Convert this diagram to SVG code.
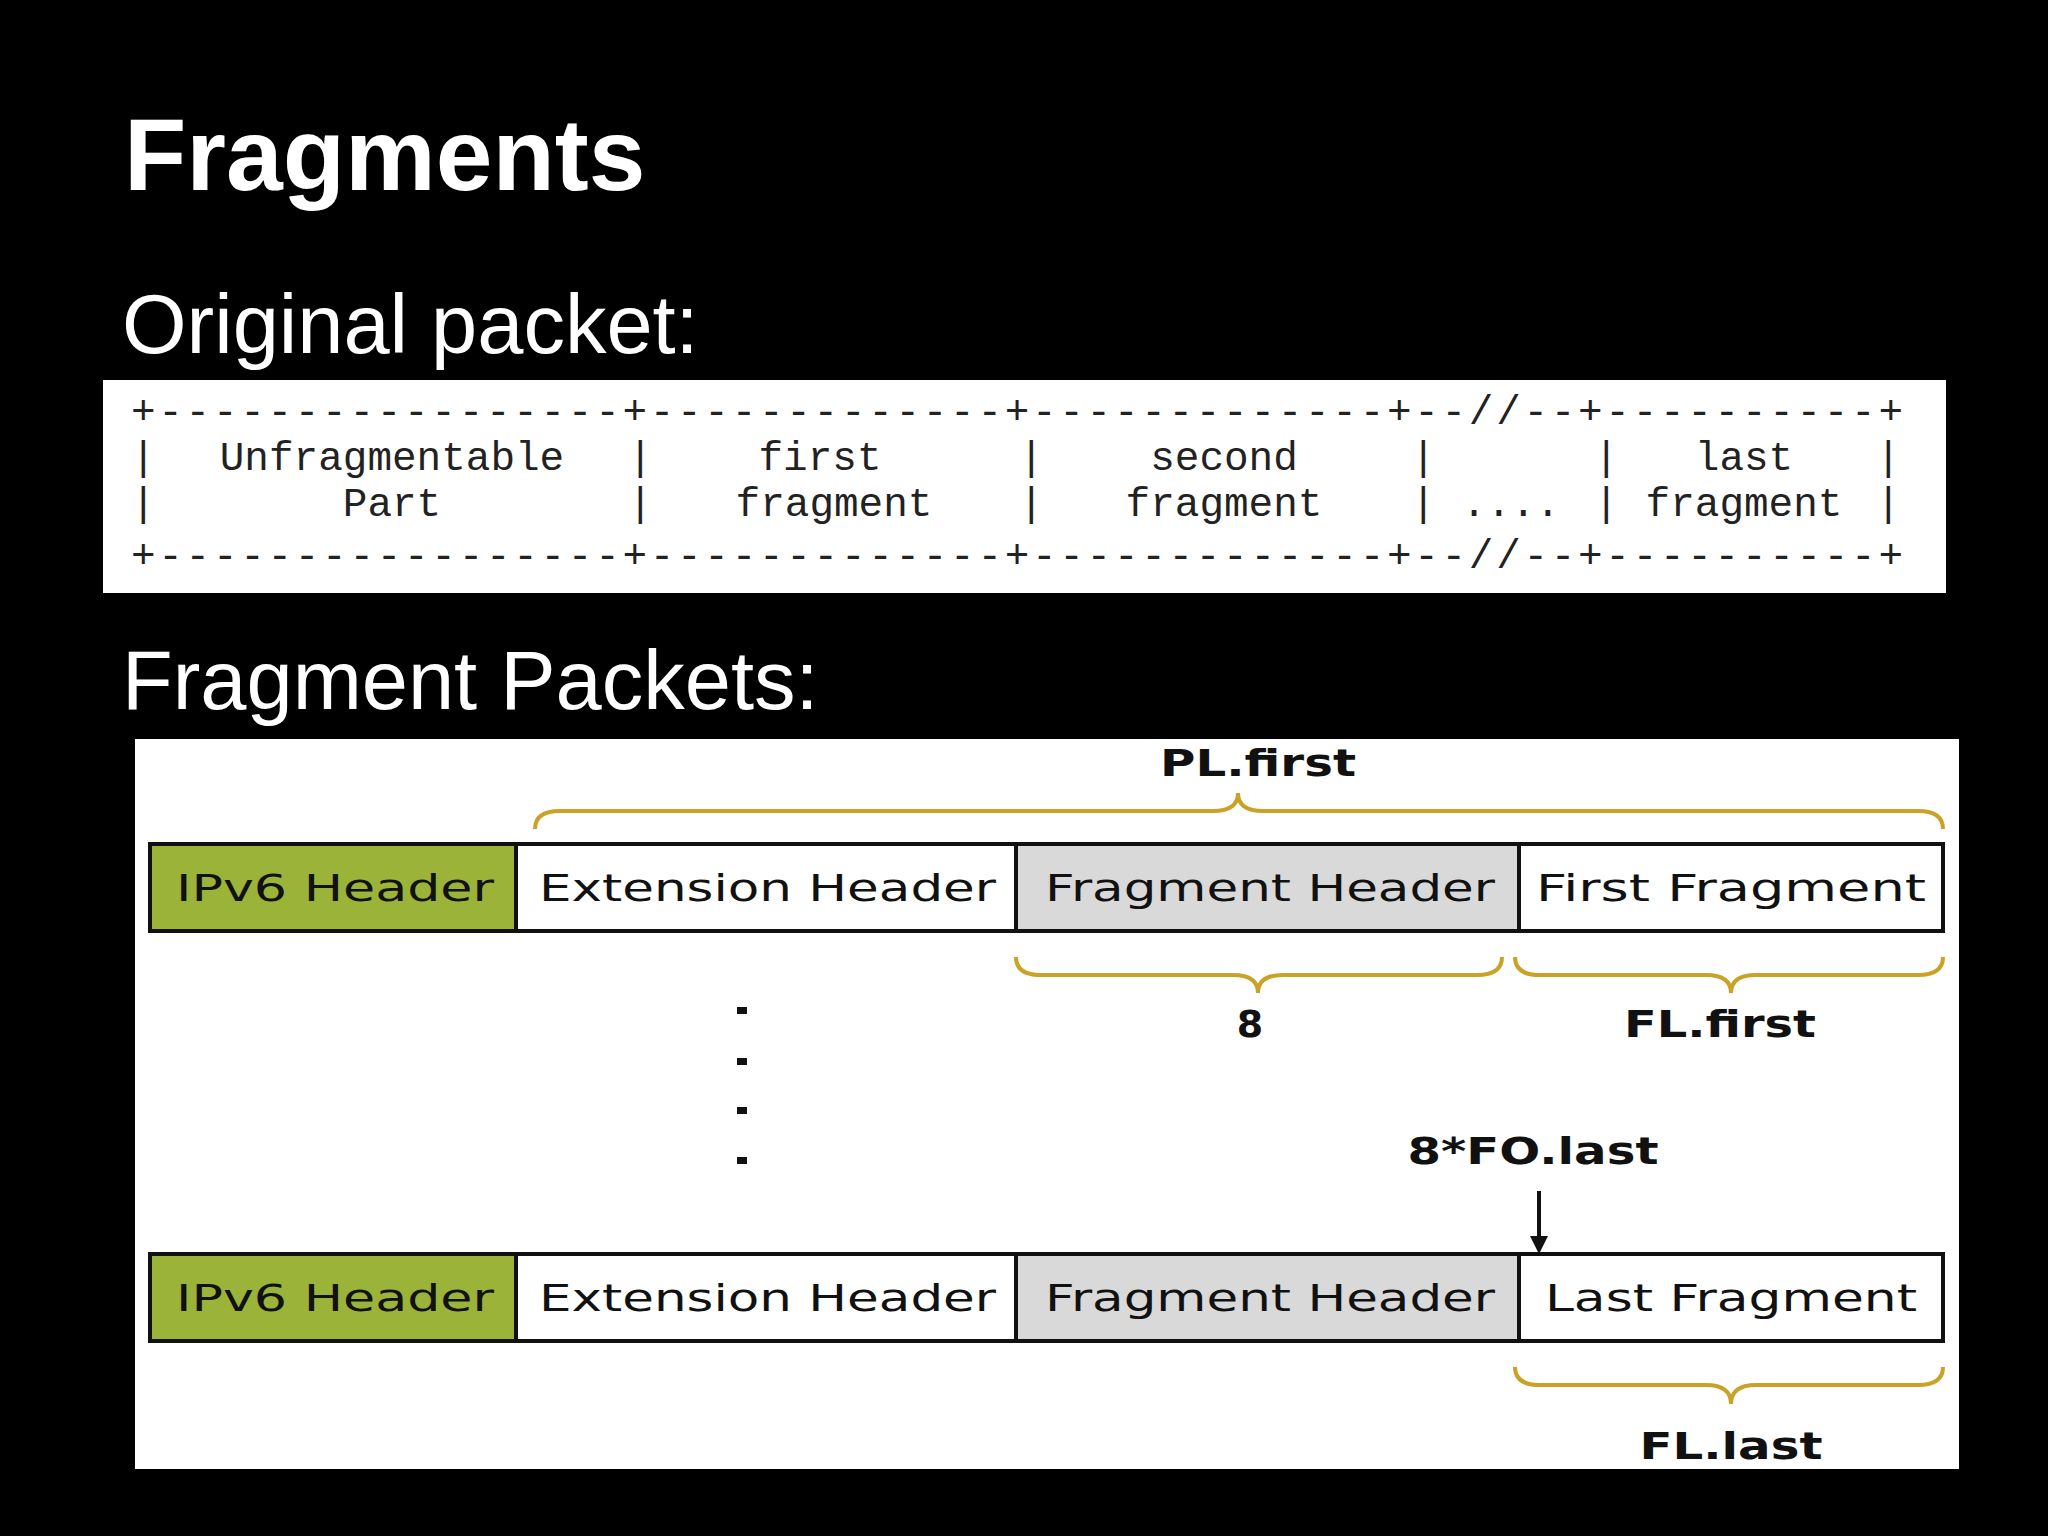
<svg xmlns="http://www.w3.org/2000/svg" width="2048" height="1536" viewBox="0 0 2048 1536">
<style>
.h{font-family:"Liberation Sans",Arial,sans-serif;fill:#fff}
.m{font-family:"Liberation Mono","Courier New",monospace;font-size:41px;fill:#222}
.c{text-anchor:middle}
.bx{stroke:#111;stroke-width:4}
.bt{font-family:"DejaVu Sans",Verdana,sans-serif;font-size:38px;fill:#111}
.br{fill:none;stroke:#c9a227;stroke-width:4}
.lb{font-family:"DejaVu Sans",Verdana,sans-serif;font-weight:bold;font-size:38px;fill:#111;text-anchor:middle}
</style>
<rect width="2048" height="1536" fill="#000"/>
<text class="h" x="124" y="190" font-size="102" font-weight="bold">Fragments</text>
<text class="h" x="122" y="353" font-size="83">Original packet:</text>
<g id="original">
<rect x="103" y="380" width="1843" height="213" fill="#fff"/>
<text class="m" x="131" y="424" textLength="1772" lengthAdjust="spacing">+-----------------+-------------+-------------+--//--+----------+</text>
<text class="m" x="131" y="568" textLength="1772" lengthAdjust="spacing">+-----------------+-------------+-------------+--//--+----------+</text>
<g class="m">
<text x="131" y="470">|</text><text x="131" y="516">|</text>
<text x="628" y="470">|</text><text x="628" y="516">|</text>
<text x="1019" y="470">|</text><text x="1019" y="516">|</text>
<text x="1411" y="470">|</text><text x="1411" y="516">|</text>
<text x="1594" y="470">|</text><text x="1594" y="516">|</text>
<text x="1876" y="470">|</text><text x="1876" y="516">|</text>
</g>
<g class="m c">
<text x="392" y="470">Unfragmentable</text><text x="392" y="516">Part</text>
<text x="820" y="470">first</text><text x="834" y="516">fragment</text>
<text x="1224" y="470">second</text><text x="1224" y="516">fragment</text>
<text x="1511" y="516">....</text>
<text x="1744" y="470">last</text><text x="1744" y="516">fragment</text>
</g>
</g>
<text class="h" x="122" y="709" font-size="83">Fragment Packets:</text>
<rect x="135" y="739" width="1824" height="730" fill="#fff"/>
<g id="row1">
<rect class="bx" x="150" y="844" width="366" height="87" fill="#9cb33a"/>
<rect class="bx" x="516" y="844" width="500" height="87" fill="#fff"/>
<rect class="bx" x="1016" y="844" width="503" height="87" fill="#d9d9d9"/>
<rect class="bx" x="1519" y="844" width="424" height="87" fill="#fff"/>
<text class="bt" x="176" y="901" textLength="318" lengthAdjust="spacingAndGlyphs">IPv6 Header</text>
<text class="bt" x="539" y="901" textLength="457" lengthAdjust="spacingAndGlyphs">Extension Header</text>
<text class="bt" x="1045" y="901" textLength="450" lengthAdjust="spacingAndGlyphs">Fragment Header</text>
<text class="bt" x="1536" y="901" textLength="390" lengthAdjust="spacingAndGlyphs">First  Fragment</text>
</g>
<g id="row2">
<rect class="bx" x="150" y="1254" width="366" height="87" fill="#9cb33a"/>
<rect class="bx" x="516" y="1254" width="500" height="87" fill="#fff"/>
<rect class="bx" x="1016" y="1254" width="503" height="87" fill="#d9d9d9"/>
<rect class="bx" x="1519" y="1254" width="424" height="87" fill="#fff"/>
<text class="bt" x="176" y="1311" textLength="318" lengthAdjust="spacingAndGlyphs">IPv6 Header</text>
<text class="bt" x="539" y="1311" textLength="457" lengthAdjust="spacingAndGlyphs">Extension Header</text>
<text class="bt" x="1045" y="1311" textLength="450" lengthAdjust="spacingAndGlyphs">Fragment Header</text>
<text class="bt" x="1545" y="1311" textLength="372" lengthAdjust="spacingAndGlyphs">Last Fragment</text>
</g>
<g id="connectors">
<path class="br" d="M535 829 Q535 811 560 811 L1213 811 Q1238 811 1238 793 Q1238 811 1263 811 L1918 811 Q1943 811 1943 829"/>
<path class="br" d="M1016 957 Q1016 975 1041 975 L1233 975 Q1258 975 1258 993 Q1258 975 1283 975 L1477 975 Q1502 975 1502 957"/>
<path class="br" d="M1515 957 Q1515 975 1540 975 L1706 975 Q1731 975 1731 993 Q1731 975 1756 975 L1918 975 Q1943 975 1943 957"/>
<path class="br" d="M1515 1367 Q1515 1385 1540 1385 L1706 1385 Q1731 1385 1731 1404 Q1731 1385 1756 1385 L1918 1385 Q1943 1385 1943 1367"/>
<line x1="1539" y1="1191" x2="1539" y2="1240" stroke="#111" stroke-width="4"/>
<path d="M1530 1236 L1548 1236 L1539 1254 Z" fill="#111"/>
</g>
<g id="labels">
<text class="lb" x="1258" y="776" textLength="196" lengthAdjust="spacingAndGlyphs">PL.first</text>
<text class="lb" x="1250" y="1037">8</text>
<text class="lb" x="1720" y="1037" textLength="192" lengthAdjust="spacingAndGlyphs">FL.first</text>
<text class="lb" x="1533" y="1164" textLength="251" lengthAdjust="spacingAndGlyphs">8*FO.last</text>
<text class="lb" x="1731" y="1459" textLength="183" lengthAdjust="spacingAndGlyphs">FL.last</text>
<g fill="#111"><rect x="737" y="1007" width="10" height="7"/><rect x="737" y="1058" width="10" height="7"/><rect x="737" y="1107" width="10" height="7"/><rect x="737" y="1157" width="10" height="7"/></g>
</g>
</svg>
